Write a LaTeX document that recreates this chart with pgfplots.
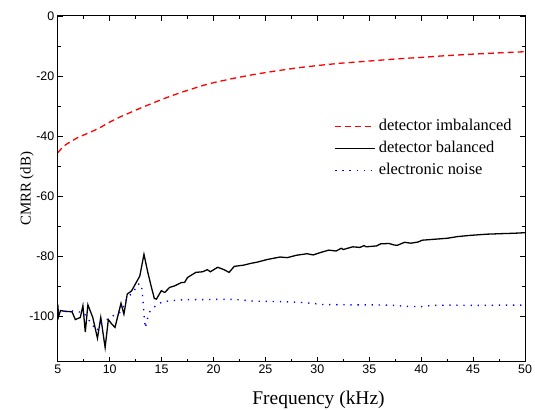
\documentclass[border=0pt]{standalone}
\usepackage{fontspec}
\setmainfont{Liberation Serif}
\newfontfamily\arialfont{Liberation Sans}
\usepackage{pgfplots}
\pgfplotsset{compat=1.18}

\begin{document}
\begin{tikzpicture}
\useasboundingbox (-58bp,-48bp) rectangle (479bp,363bp);
\begin{axis}[
  at={(0,0)}, anchor=south west,
  scale only axis, width=469bp, height=347bp,
  xmin=5, xmax=50, ymin=-115, ymax=0,
  xtick={5,10,...,50}, ytick={-100,-80,...,0},
  minor x tick num=1, minor y tick num=1,
  tick align=inside, major tick length=5bp, minor tick length=3bp,
  every tick/.style={black, line width=0.8bp},
  axis line style={black, line width=1bp},
  ticklabel style={font=\arialfont\fontsize{12.5bp}{15bp}\selectfont},
  /pgf/number format/assume math mode=true,
  xlabel={Frequency (kHz)},
  xlabel style={at={(axis description cs:0.558,-0.1239)}, anchor=base, font=\fontsize{19.5bp}{22bp}\selectfont},
  ylabel={CMRR (dB)},
  ylabel style={at={(axis description cs:-0.066,0.5)}, anchor=center, font=\fontsize{15bp}{18bp}\selectfont},
  legend style={draw=none, fill=none, at={(axis description cs:0.592,0.707)}, anchor=north west,
    font=\fontsize{16.5bp}{19bp}\selectfont, inner sep=0pt, row sep=4bp, column sep=2bp,
    nodes={inner sep=1bp, text height=12bp, text depth=4bp}},
  legend cell align=left,
  legend image code/.code={\draw[#1] (0bp,0bp) -- (40bp,0bp);},
]
\addplot[red, line width=1.3bp, dash pattern=on 6bp off 4bp] coordinates {
(5,-45.5) (5.5,-43.5) (6,-42.3) (7,-40.3) (8,-38.9) (9,-37.3) (10,-35.3) (11,-33.6)
(12,-32.1) (13,-30.6) (14,-29.2) (15,-27.8) (16,-26.5) (17,-25.3) (18,-24.2) (19,-23.1)
(20,-22.2) (22,-20.7) (24,-19.4) (26,-18.3) (28,-17.3) (30,-16.5) (32,-15.8) (35,-15)
(38,-14.2) (40,-13.8) (42,-13.3) (45,-12.7) (48,-12.2) (50,-11.9)};
\addlegendentry{detector imbalanced}
\addplot[black, line width=1.3bp] coordinates {
(5.0,-96) (5.08,-100) (5.26,-98) (5.6,-98.2) (5.89,-98.3) (6.37,-98.4) (6.69,-101) (7.17,-100.3)
(7.42,-96.4) (7.65,-105.2) (7.9,-96.1) (8.37,-100.3) (8.82,-107.2) (9.14,-100.3) (9.56,-110.3)
(9.87,-101) (10.2,-102.5) (10.51,-103.6) (11.09,-95.6) (11.37,-99.2) (11.69,-92.5) (12.1,-91.5)
(12.5,-89) (12.9,-86.5) (13.3,-79.3) (13.65,-85) (14.0,-90) (14.3,-94) (14.5,-94.2) (14.97,-91.4)
(15.3,-92) (15.77,-90.3) (16.25,-89.8) (16.9,-88.7) (17.2,-88.7) (17.5,-87) (18.3,-85.3)
(18.95,-85.1) (19.4,-84.4) (19.7,-85.1) (20.4,-83.6) (21.0,-84.4) (21.5,-85.3) (22.0,-83.3)
(22.9,-82.9) (23.6,-82.3) (24.2,-81.9) (25.2,-81) (26.4,-80.2) (27.1,-80.4) (28.0,-79.6)
(29.0,-79.1) (29.6,-79.5) (30.3,-78.7) (31.1,-77.9) (31.8,-78.2) (32.3,-77.3) (32.5,-77.7)
(33.4,-76.8) (34.1,-77.0) (34.5,-76.4) (34.7,-76.8) (35.7,-76.5) (36.1,-75.8) (36.9,-75.7)
(37.4,-76.2) (37.7,-76.3) (38.4,-75.3) (39.0,-75.6) (39.7,-75.2) (40.1,-74.6) (41.2,-74.3)
(42.5,-73.96) (43.5,-73.4) (44.7,-73.0) (46.3,-72.6) (47.9,-72.4) (48.9,-72.3) (50,-72.1)};
\addlegendentry{detector balanced}
\addplot[blue, line width=1.4bp, dash pattern=on 1.3bp off 5.8bp] coordinates {
(5,-98.4) (5.57,-98.4) (6.2,-98) (6.84,-98.4) (7.48,-98.6) (7.8,-100.3) (8.28,-102.5)
(8.76,-104.7) (9.23,-102.2) (9.87,-100.8) (10.35,-99.7) (10.99,-98.6) (11.37,-96.4)
(11.69,-93.6) (12.26,-92) (12.7,-89.2) (13.05,-89.2) (13.12,-91.8) (13.2,-94.2) (13.25,-96.4)
(13.35,-101.4) (13.44,-103.8) (13.63,-100.8) (13.86,-98.4) (14.49,-96.2) (15.13,-95)
(15.92,-94.8) (16.56,-94.5) (17.35,-94.4) (18,-94.4) (20,-94.3) (22,-94.3) (23,-94.6)
(24,-94.9) (26,-95) (28,-95.2) (29.5,-95.6) (30.5,-96) (33,-96.1) (35,-96.1) (37,-96.2)
(38.5,-96.6) (40,-96.7) (41,-96.3) (43,-96.2) (45,-96.3) (48,-96.2) (50,-96.2)};
\addlegendentry{electronic noise}
\end{axis}
\end{tikzpicture}
\end{document}
